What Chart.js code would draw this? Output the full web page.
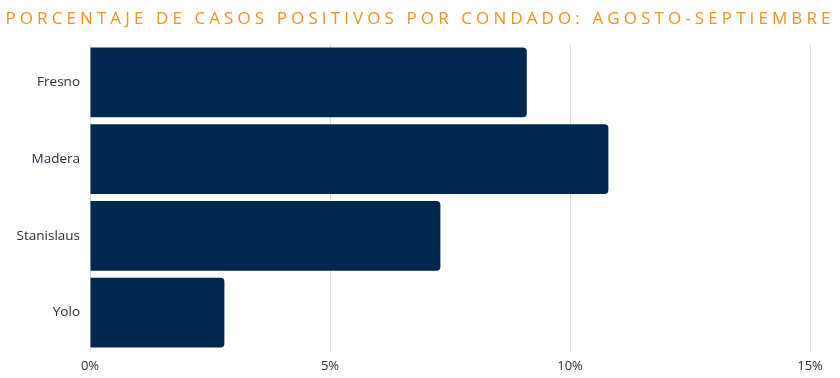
<!DOCTYPE html>
<html>
<head>
<meta charset="utf-8">
<script src="https://cdn.jsdelivr.net/npm/chart.js@4"></script>
<style>
	body { margin: 0; background: #fff; }
	#wrap { position: relative; width: 840px; height: 378px; }
	#title {
		position: absolute; left: 0; top: 6px; width: 840px;
		text-align: center; font-family: "Open Sans", sans-serif; font-size: 17px;
		letter-spacing: 4.1px; color: #f2921c; white-space: nowrap;
	}
</style>
</head>
<body>
<div id="wrap">
	<div id="title">PORCENTAJE DE CASOS POSITIVOS POR CONDADO: AGOSTO-SEPTIEMBRE</div>
	<canvas id="myBarChart" width="840" height="378"></canvas>
</div>
<script>
"use strict";

// Counties and their share of positive cases (percent)
const condados = ["Fresno", "Madera", "Stanislaus", "Yolo"];
const porcentajes = [9.1, 10.8, 7.3, 2.8];
const xTicks = [0, 5, 10, 15];

const fontFamily = "'Open Sans', sans-serif";

new Chart(document.getElementById("myBarChart"), {
	type: "bar",
	data: {
		labels: condados,
		datasets: [
			{
				data: porcentajes,
				backgroundColor: "#02274f",
				borderRadius: 4,
				barPercentage: 0.912,
				categoryPercentage: 1,
			},
		],
	},
	options: {
		indexAxis: "y",
		responsive: false,
		animation: false,
		layout: { padding: { top: 44, right: 30, left: 0, bottom: 0 } },
		plugins: {
			legend: { display: false },
			tooltip: { enabled: false },
		},
		scales: {
			x: {
				min: 0,
				max: 15,
				afterBuildTicks: function (scale) {
					scale.ticks = xTicks.map(function (v) { return { value: v }; });
				},
				afterFit: function (scale) { scale.height = 27; },
				grid: { color: "#dcdce0", drawTicks: false },
				border: { display: false },
				ticks: {
					padding: 7,
					color: "#2a2e3d",
					font: { family: fontFamily, size: 13 },
					callback: function (v) { return v + "%"; },
				},
			},
			y: {
				afterFit: function (scale) { scale.width = 90; },
				grid: { display: false, drawTicks: false },
				border: { display: true, color: "#dcdce0" },
				ticks: {
					padding: 10,
					color: "#2a2e3d",
					font: { family: fontFamily, size: 13.5 },
				},
			},
		},
	},
});
</script>
</body>
</html>
